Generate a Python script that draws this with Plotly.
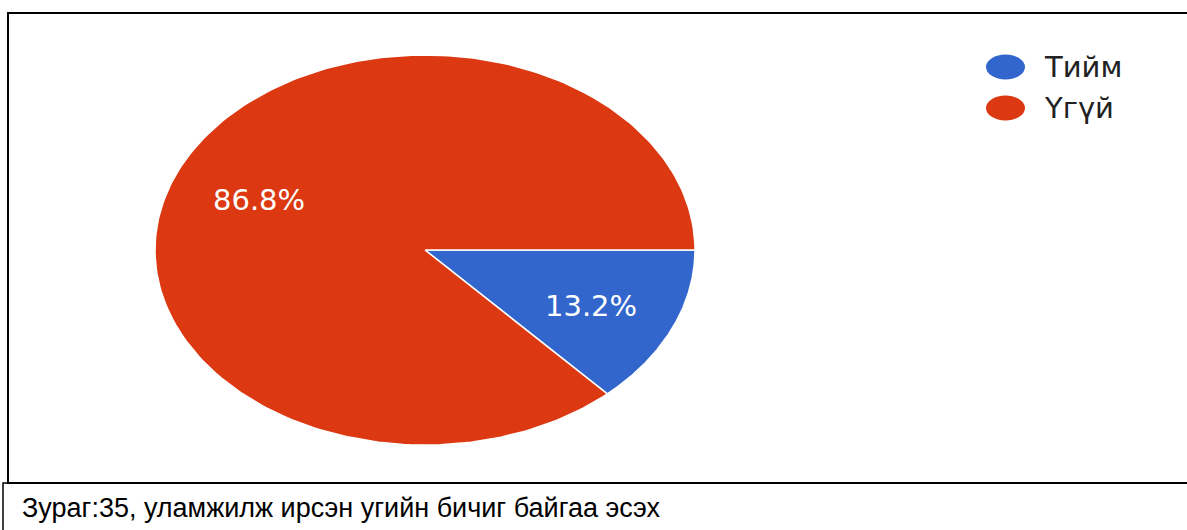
import numpy as np
import plotly.graph_objects as go

# ---- data ----
categories = ["Тийм", "Үгүй"]
values = [13.2, 86.8]
colors = ["#3366CC", "#DC3912"]
caption = "Зураг:35, уламжилж ирсэн угийн бичиг байгаа эсэх"

W, H = 1187, 530


def px(x):
    return x / W


def py(y):
    return 1 - y / H


fig = go.Figure()
annotations = []

total = sum(values)
start = 0.0  # degrees, measured clockwise from 3 o'clock
for cat, val, col in zip(categories, values, colors):
    sweep = 360.0 * val / total
    th = np.radians(-np.linspace(start, start + sweep, 240))
    xs = np.concatenate([[0], np.cos(th), [0]])
    ys = np.concatenate([[0], np.sin(th), [0]])
    fig.add_trace(go.Scatter(
        x=xs, y=ys, mode="lines", fill="toself", fillcolor=col,
        line=dict(color="white", width=1.5), name=cat,
        showlegend=False, hoverinfo="name",
    ))
    mid = np.radians(-(start + sweep / 2))
    annotations.append(dict(
        x=0.67 * np.cos(mid), y=0.67 * np.sin(mid), xref="x", yref="y",
        text=f"{100 * val / total:.1f}%", showarrow=False, yshift=-3,
        xanchor="center", yanchor="middle",
        font=dict(family="DejaVu Sans", size=29, color="white"),
    ))
    start += sweep

fig.update_xaxes(range=[-1, 1], domain=[px(155), px(695)], visible=False, fixedrange=True)
fig.update_yaxes(range=[-1, 1], domain=[py(445), py(55)], visible=False, fixedrange=True)

shapes = [
    # chart frame
    dict(type="rect", xref="paper", yref="paper", x0=px(8), x1=px(1200), y0=py(483), y1=py(13),
         line=dict(color="black", width=2), fillcolor="rgba(0,0,0,0)", layer="below"),
    # caption box
    dict(type="rect", xref="paper", yref="paper", x0=px(3), x1=px(1200), y0=py(545), y1=py(483),
         line=dict(color="black", width=1.5), fillcolor="rgba(0,0,0,0)", layer="below"),
]
annotations.append(
    dict(text=caption, xref="paper", yref="paper", x=px(20), y=py(508), xanchor="left", yanchor="middle",
         showarrow=False, font=dict(family="Liberation Sans Narrow, Arial Narrow, Liberation Sans", size=27, color="black")),
)

# legend (ellipse swatches + text)
for i, (cat, col) in enumerate(zip(categories, colors)):
    cy = 67 + i * 41
    shapes.append(dict(type="circle", xref="paper", yref="paper",
                       x0=px(986), x1=px(1025), y0=py(cy + 12.5), y1=py(cy - 12.5),
                       fillcolor=col, line=dict(width=0)))
    annotations.append(dict(text=cat, xref="paper", yref="paper", x=px(1042), y=py(cy),
                            xanchor="left", yanchor="middle", showarrow=False,
                            font=dict(family="DejaVu Sans", size=29, color="#222222")))

fig.update_layout(
    width=W, height=H, autosize=False,
    margin=dict(l=0, r=0, t=0, b=0),
    paper_bgcolor="white", plot_bgcolor="white",
    shapes=shapes, annotations=annotations,
    showlegend=False,
)

fig.write_html(
    "out.html",
    config={"displayModeBar": False},
    post_script="document.body.style.margin='0';document.body.style.overflow='hidden';",
)
